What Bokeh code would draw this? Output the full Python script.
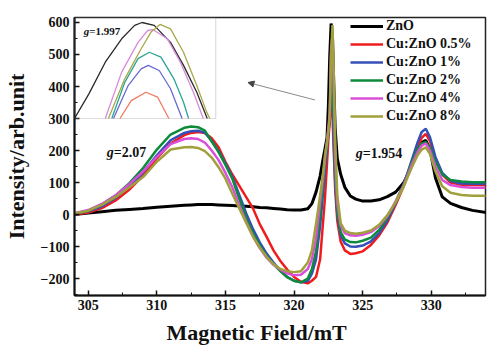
from bokeh.plotting import figure
from bokeh.models import (Range1d, SingleIntervalTicker, BoxAnnotation, Label,
                          Arrow, NormalHead, Title)
from bokeh.embed import file_html
from bokeh.resources import INLINE

# ---------------- data ----------------
field = [304, 305, 306, 307, 308, 309, 310, 311, 312, 312.5, 313, 313.5, 314, 314.5,
         315, 315.5, 316, 316.5, 317, 317.5, 318, 318.5, 319, 319.5, 320, 320.5, 321,
         321.3, 321.6, 321.9, 322.1, 322.25, 322.4, 322.5, 322.6, 322.7, 322.8, 322.9,
         323.0, 323.15, 323.4, 323.7, 324.1, 324.5, 325, 325.6, 326.2, 326.8, 327.4,
         328, 328.5, 329, 329.3, 329.6, 329.9, 330.3, 330.8, 331.4, 332.2, 333, 334]

zno = [0, 5, 9, 13, 16, 19, 23, 26, 29,
       30, 31, 31,
       31, 30, 29, 28, 27, 26, 24, 22, 21, 19, 17, 15, 14, 14, 18,
       34, 70, 120, 170, 205, 240, 340, 495, 597, 555, 400, 265, 175, 125, 85, 58, 48,
       42, 42, 46, 56, 70, 100, 145, 200, 225, 232, 205, 115, 55, 35, 22, 13, 6]

cu05 = [0, 6, 20, 44, 78, 122, 175, 222, 248,
        255, 258, 255,
        238, 210, 165, 125, 90, 55, 20, -30, -70, -112, -145, -172, -195, -210, -215,
        -207, -195, -140, -30, 50, 160, 235, 290, 375, 310, 190, 75, -20, -85, -112, -123, -121,
        -115, -95, -65, -25, 30, 90, 150, 210, 240, 252, 230, 175, 125, 100, 93, 92, 92]

cu1 = [2, 10, 26, 52, 88, 132, 185, 232, 255,
       260, 262, 256,
       230, 198, 160, 118, 62, 5, -45, -87, -122, -150, -175, -195, -207, -212, -208,
       -185, -140, -35, 60, 140, 210, 255, 295, 450, 380, 220, 100, 0, -65, -90, -100, -101,
       -97, -84, -58, -18, 35, 95, 160, 225, 258, 268, 242, 180, 130, 105, 97, 96, 96]

cu2 = [3, 12, 32, 60, 98, 145, 203, 250, 271,
       275, 273, 262,
       228, 195, 155, 112, 50, -10, -58, -97, -130, -155, -177, -196, -207, -212, -200,
       -170, -115, 0, 90, 160, 220, 265, 295, 500, 440, 270, 120, 10, -55, -78, -86, -87,
       -82, -72, -48, -10, 40, 95, 155, 205, 222, 226, 208, 165, 125, 108, 103, 101, 101]

cu4 = [4, 14, 33, 60, 95, 135, 180, 220, 236,
       238, 236, 225,
       200, 170, 130, 85, 30, -22, -68, -105, -135, -157, -172, -184, -190, -188, -170,
       -140, -75, 40, 110, 175, 230, 270, 320, 520, 560, 380, 170, 35, -35, -58, -65, -66,
       -63, -55, -36, -5, 40, 92, 148, 195, 215, 222, 200, 150, 108, 92, 86, 84, 84]

cu8 = [3, 12, 30, 55, 85, 117, 165, 203, 210,
       211, 208, 198,
       178, 148, 112, 65, 20, -25, -68, -103, -132, -155, -170, -177, -180, -177, -150,
       -112, -29, 60, 125, 185, 225, 260, 310, 500, 592, 430, 230, 60, -28, -50, -58, -60,
       -57, -50, -32, -2, 38, 88, 140, 185, 203, 210, 190, 135, 88, 68, 61, 59, 59]

series_names = ["ZnO", "Cu:ZnO 0.5%", "Cu:ZnO 1%", "Cu:ZnO 2%", "Cu:ZnO 4%", "Cu:ZnO 8%"]
series_values = [zno, cu05, cu1, cu2, cu4, cu8]

# inset: zoom of the peak top (g = 1.997)
inset_zno_x = [322.475, 322.526, 322.584, 322.642, 322.688, 322.714, 322.757, 322.815, 322.861, 322.908, 322.945]
inset_zno_y = [300, 377, 476, 549, 591, 600, 591, 538, 466, 382, 300]
inset_cu05_x = [322.636, 322.676, 322.728, 322.769, 322.809]
inset_cu05_y = [300, 356, 382, 367, 300]
inset_cu1_x = [322.613, 322.665, 322.711, 322.736, 322.775, 322.815, 322.856]
inset_cu1_y = [300, 403, 455, 466, 450, 393, 300]
inset_cu2_x = [322.607, 322.653, 322.700, 322.740, 322.781, 322.827, 322.861, 322.879]
inset_cu2_y = [300, 413, 487, 507, 492, 424, 351, 300]
inset_cu4_x = [322.584, 322.642, 322.700, 322.734, 322.752, 322.804, 322.850, 322.896, 322.931]
inset_cu4_y = [300, 445, 538, 575, 578, 549, 476, 382, 300]
inset_cu8_x = [322.595, 322.653, 322.711, 322.746, 322.778, 322.815, 322.861, 322.908, 322.943, 322.954]
inset_cu8_y = [300, 424, 518, 570, 594, 580, 507, 403, 320, 300]
inset_xs = [inset_zno_x, inset_cu05_x, inset_cu1_x, inset_cu2_x, inset_cu4_x, inset_cu8_x]
inset_ys = [inset_zno_y, inset_cu05_y, inset_cu1_y, inset_cu2_y, inset_cu4_y, inset_cu8_y]

# ---------------- styles ----------------
colors = ["#000000", "#f01c1c", "#3450b8", "#0d8a3a", "#d94fd9", "#a0a03c"]
inset_colors = ["#2a2a2a", "#f07a62", "#6a6ad0", "#2aa598", "#d88ad8", "#a8a84c"]
widths = [3, 2.5, 2.5, 2.5, 2.5, 2.5]
FONT = "Liberation Serif"

X0, X1 = 304, 333.95
Y0, Y1 = -253, 615.6

p = figure(width=500, height=352, x_range=Range1d(X0, X1), y_range=Range1d(Y0, Y1),
           output_backend="svg", toolbar_location=None,
           min_border_left=68, min_border_right=15, min_border_top=17, min_border_bottom=57)
p.xgrid.visible = False
p.ygrid.visible = False
p.outline_line_color = "#222222"
p.outline_line_width = 1.5
p.background_fill_color = "white"
p.border_fill_color = "white"

p.xaxis.ticker = SingleIntervalTicker(interval=5, num_minor_ticks=2)
p.yaxis.ticker = SingleIntervalTicker(interval=100, num_minor_ticks=2)
for ax in (p.xaxis[0], p.yaxis[0]):
    ax.axis_line_width = 2
    ax.axis_line_color = "#111111"
    ax.major_tick_in = 5
    ax.major_tick_out = 0
    ax.minor_tick_in = 3
    ax.minor_tick_out = 0
    ax.major_tick_line_width = 1.5
    ax.major_tick_line_color = "#111111"
    ax.minor_tick_line_color = "#111111"
    ax.major_label_text_font = FONT
    ax.major_label_text_font_style = "bold"
    ax.major_label_text_font_size = "14px"
    ax.major_label_text_color = "#111111"
p.xaxis.major_label_standoff = 4
p.yaxis.major_label_standoff = 5
p.yaxis.axis_label = "Intensity/arb.unit"
p.yaxis.axis_label_text_font = FONT
p.yaxis.axis_label_text_font_style = "bold"
p.yaxis.axis_label_text_font_size = "22px"
p.yaxis.axis_label_text_color = "#111111"
p.yaxis.axis_label_standoff = 9

# x axis title, placed below the axis and shifted left as in the reference
p.add_layout(Title(text="Magnetic Field/mT", align="left", offset=92,
                   text_font=FONT, text_font_style="bold", text_font_size="22px",
                   text_color="#111111", standoff=10), "below")

# main curves
for name, vals, c, w in zip(series_names, series_values, colors, widths):
    p.line(field, vals, line_color=c, line_width=w, legend_label=name)

# inset: same y scale, zoomed x
inset_x_src = Range1d(322.475, 322.975)
inset_y_rng = Range1d(300, Y1)
inset_x_tgt = Range1d(X0, 314.29)
sub = p.subplot(x_source=inset_x_src, y_source=inset_y_rng,
                x_target=inset_x_tgt, y_target=inset_y_rng)
for xs, ys, c in zip(inset_xs, inset_ys, inset_colors):
    sub.line(xs, ys, line_color=c, line_width=1.3)
p.add_layout(BoxAnnotation(left=inset_x_tgt.start, right=inset_x_tgt.end,
                           bottom=inset_y_rng.start, top=inset_y_rng.end,
                           fill_alpha=0, line_color="#8a8a8a", line_width=1.2))

# g-value annotations
def gval(x, y, num, size):
    p.add_layout(Label(x=x, y=y, text="g", text_font=FONT, text_font_style="bold italic",
                       text_font_size=size, text_align="right", text_baseline="middle",
                       text_color="#111111"))
    p.add_layout(Label(x=x, y=y, text="=" + num, text_font=FONT, text_font_style="bold",
                       text_font_size=size, text_align="left", text_baseline="middle",
                       text_color="#111111"))

gval(305.07, 572, "1.997", "11px")
gval(306.86, 194, "2.07", "14px")
gval(325.0, 191, "1.954", "14px")

# arrow pointing to the inset
p.add_layout(Arrow(end=NormalHead(size=6, fill_color="#444444", line_color="#444444"),
                   x_start=321.52, y_start=358, x_end=316.64, y_end=412.5,
                   line_color="#8a8a8a", line_width=1))

lg = p.legend[0]
lg.location = "top_right"
lg.margin = 0
lg.padding = 0
lg.spacing = 0
lg.glyph_width = 33
lg.glyph_height = 18
lg.label_height = 18
lg.label_width = 99
lg.label_standoff = 3
lg.border_line_alpha = 0
lg.background_fill_alpha = 0
lg.label_text_font = FONT
lg.label_text_font_style = "bold"
lg.label_text_font_size = "14px"
lg.label_text_color = "#111111"

open("out.html", "w").write(file_html(p, INLINE))
